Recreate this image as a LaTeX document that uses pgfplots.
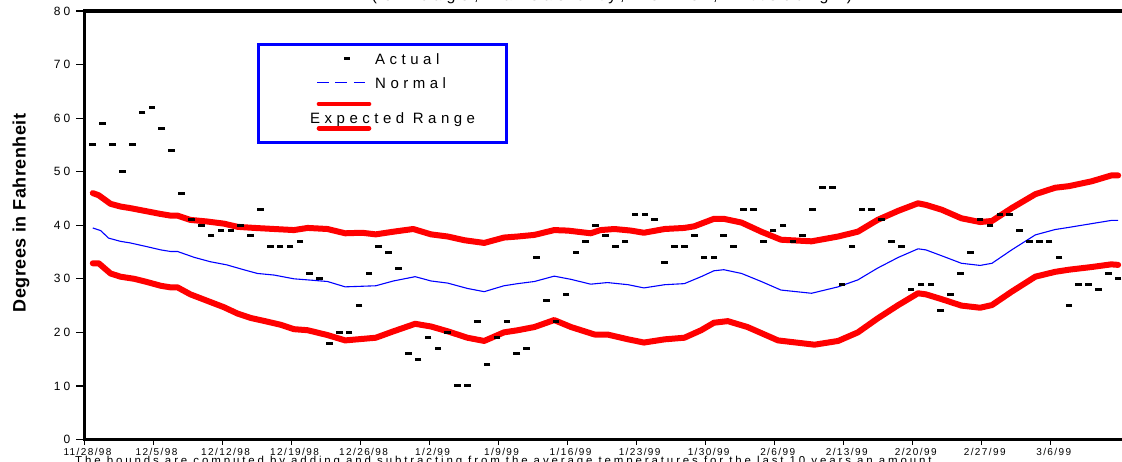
\documentclass[border=0pt]{standalone}
\usepackage{pgfplots}
\pgfplotsset{compat=1.18}
\usepackage{fontspec}
\setmainfont{Liberation Sans}
\newfontfamily\legfont[LetterSpace=30]{Liberation Sans}
\newfontfamily\yfont[LetterSpace=25]{Liberation Sans}
\newfontfamily\xfont[LetterSpace=14]{Liberation Sans}
\newfontfamily\notefont[LetterSpace=25]{Liberation Sans}
\newfontfamily\labfont[LetterSpace=3]{Liberation Sans}

\pgfplotstableread{
x y
0 55
1 59
2 55
3 50
4 55
5 61
6 62
7 58
8 54
9 46
10 41
11 40
12 38
13 39
14 39
15 40
16 38
17 43
18 36
19 36
20 36
21 37
22 31
23 30
24 18
25 20
26 20
27 25
28 31
29 36
30 35
31 32
32 16
33 15
34 19
35 17
36 20
37 10
38 10
39 22
40 14
41 19
42 22
43 16
44 17
45 34
46 26
47 22
48 27
49 35
50 37
51 40
52 38
53 36
54 37
55 42
56 42
57 41
58 33
59 36
60 36
61 38
62 34
63 34
64 38
65 36
66 43
67 43
68 37
69 39
70 40
71 37
72 38
73 43
74 47
75 47
76 29
77 36
78 43
79 43
80 41
81 37
82 36
83 28
84 29
85 29
86 24
87 27
88 31
89 35
90 41
91 40
92 42
93 42
94 39
95 37
96 37
97 37
98 34
99 25
100 29
101 29
102 28
103 31
104 30
}\tabactual

\pgfplotstableread{
x y
0 46.0
0.6 45.6
1.8 44.0
2.8 43.5
3.8 43.2
5.5 42.6
6.9 42.1
7.9 41.8
8.6 41.8
9.9 41.0
11.6 40.7
13.3 40.3
14.7 39.7
16.4 39.5
18.4 39.3
20.4 39.1
21.8 39.5
23.8 39.3
25.6 38.5
27.3 38.6
28.7 38.3
30.5 38.8
32.5 39.3
34.3 38.3
36.0 37.9
37.7 37.2
39.7 36.7
41.7 37.7
43.1 37.9
44.8 38.2
46.8 39.1
48.2 39.0
50.5 38.5
51.5 39.1
52.9 39.3
54.6 39.0
55.9 38.6
58.0 39.3
60.0 39.5
61.0 39.8
63.0 41.2
64.0 41.2
65.8 40.5
67.8 38.8
69.8 37.3
72.9 37.0
75.6 37.9
77.6 38.8
79.6 41.0
81.7 42.7
83.7 44.1
84.5 43.8
86.1 42.9
88.1 41.3
90.0 40.6
91.2 40.8
93.2 43.2
95.6 45.8
97.6 47.0
99.0 47.3
101.3 48.2
103.3 49.3
104 49.3
}\tabupper

\pgfplotstableread{
x y
0 32.9
0.6 32.9
1.8 31.0
2.8 30.4
4.2 30.0
5.5 29.4
6.9 28.7
7.9 28.4
8.6 28.4
9.9 27.1
11.6 25.9
13.3 24.7
14.7 23.5
16.0 22.7
17.7 22.0
19.1 21.4
20.4 20.6
21.8 20.4
23.8 19.5
25.6 18.5
28.7 19.0
30.5 20.2
32.7 21.6
34.3 21.1
36.0 20.2
38.0 19.0
39.7 18.4
41.7 20.0
43.1 20.4
44.8 21.0
46.8 22.3
48.5 21.0
50.9 19.6
52.2 19.6
54.3 18.7
55.9 18.1
58.0 18.7
60.0 19.0
61.7 20.4
63.0 21.8
64.4 22.1
66.4 21.0
69.5 18.5
73.2 17.7
75.6 18.4
77.6 20.0
79.6 22.6
81.7 25.1
83.7 27.3
84.5 27.1
86.1 26.2
88.1 25.0
90.0 24.6
91.2 25.1
93.2 27.6
95.6 30.4
97.6 31.3
99.0 31.7
101.3 32.2
103.3 32.7
104 32.6
}\tablower

\pgfplotstableread{
x y
0 39.5
0.8 39.0
1.6 37.6
2.8 37.0
3.8 36.7
5.5 36.0
6.9 35.4
7.9 35.1
8.6 35.1
10.3 34.0
11.9 33.2
13.6 32.6
15.3 31.7
16.7 31.0
18.4 30.7
20.4 30.0
21.8 29.8
23.8 29.5
25.6 28.5
28.7 28.7
30.5 29.6
32.7 30.4
34.3 29.6
36.0 29.2
38.0 28.2
39.7 27.6
41.7 28.7
43.1 29.1
44.8 29.5
46.8 30.5
48.5 29.9
50.5 29.0
52.2 29.3
54.3 28.9
55.9 28.3
58.0 28.9
60.0 29.1
61.7 30.4
63.0 31.5
64.0 31.7
65.8 31.0
67.8 29.5
69.8 27.9
72.9 27.3
75.6 28.5
77.6 29.8
79.6 32.0
81.7 34.0
83.7 35.6
84.5 35.4
86.1 34.3
88.1 32.9
90.0 32.5
91.2 32.9
93.2 35.4
95.6 38.2
97.6 39.2
99.0 39.6
101.3 40.3
103.3 40.9
104 40.9
}\tabnormal

\begin{document}
\begin{tikzpicture}[x=1pt,y=1pt]
\begin{axis}[
  at={(84.5pt,21.5pt)}, anchor=south west,
  scale only axis, width=1053.4pt, height=428.5pt,
  xmin=-0.84, xmax=106, ymin=0, ymax=80,
  axis line style={line width=3.5pt, black},
  tick align=outside, major tick length=8pt,
  tick style={black, line width=1.2pt},
  xtick style={/pgfplots/major tick length=5pt},
  tick pos=left,
  xtick={-0.84,6.16,13.16,20.16,27.16,34.16,41.16,48.16,55.16,62.16,69.16,76.16,83.16,90.16,97.16},
  xticklabels={11/28/98,12/5/98,12/12/98,12/19/98,12/26/98,1/2/99,1/9/99,1/16/99,1/23/99,1/30/99,2/6/99,2/13/99,2/20/99,2/27/99,3/6/99},
  ytick={0,10,...,80},
  /pgf/number format/assume math mode=true,
  xticklabel style={font=\xfont\fontsize{10}{11}\selectfont, inner sep=0pt, anchor=north, xshift=3pt, yshift=-1pt},
  yticklabel style={font=\yfont\fontsize{12}{14}\selectfont, inner sep=0pt, anchor=east, xshift=-6pt},
  ylabel={Degrees in Fahrenheit},
  every axis y label/.style={at={(axis description cs:-0.0602,0.5286)}, rotate=90, anchor=center, font=\labfont\bfseries\fontsize{18}{20}\selectfont},
]
\addplot[red, line width=6pt, line join=round, line cap=round] table[x=x,y=y] {\tabupper};
\addplot[red, line width=6pt, line join=round, line cap=round] table[x=x,y=y] {\tablower};
\addplot[blue, line width=1.1pt, line join=round] table[x=x,y=y] {\tabnormal};
\addplot[only marks, mark=-, mark size=3.3pt, mark options={line width=3pt, black, solid}] table[x=x,y=y] {\tabactual};
\end{axis}
% legend
\draw[blue, line width=3pt, fill=white] (258,318) rectangle (506,416);
\draw[black, line width=3pt] (344,402) -- (349.5,402);
\node[anchor=base west, inner sep=0pt, font=\legfont\fontsize{15}{18}\selectfont] at (375,396.7) {Actual};
\draw[blue, line width=1.5pt, dash pattern=on 11.7pt off 6.7pt] (317,378.7) -- (365,378.7);
\node[anchor=base west, inner sep=0pt, font=\legfont\fontsize{15}{18}\selectfont] at (375,372.7) {Normal};
\draw[red, line width=4.7pt, line cap=round] (319,357) -- (369,357);
\node[anchor=base west, inner sep=0pt, font=\legfont\fontsize{15}{18}\selectfont] at (310,337) {Expected Range};
\draw[red, line width=4.7pt, line cap=round] (319,332.7) -- (369,332.7);
% cut-off title and note
\node[anchor=base, inner sep=0pt, font=\legfont\fontsize{16}{19}\selectfont] at (612,460) {(Chicago, Kansas City, Denver, Pittsburgh)};
\node[anchor=base west, inner sep=0pt, font=\notefont\fontsize{11.5}{13}\selectfont] at (75,-3.8) {The bounds are computed by adding and subtracting from the average temperatures for the last 10 years an amount};
\pgfresetboundingbox
\useasboundingbox (0,0) rectangle (1122,461);
\end{tikzpicture}
\end{document}
